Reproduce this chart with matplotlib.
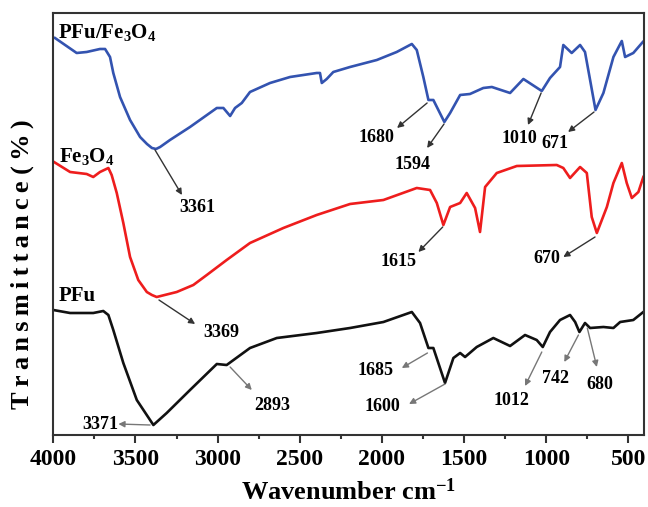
import matplotlib
matplotlib.use("Agg")
import matplotlib.pyplot as plt
from matplotlib.ticker import MultipleLocator

plt.rcParams['font.family'] = ['Liberation Serif', 'DejaVu Serif']
plt.rcParams['font.weight'] = 'bold'
plt.rcParams['mathtext.fontset'] = 'custom'
plt.rcParams['mathtext.rm'] = 'Liberation Serif:bold'
plt.rcParams['mathtext.bf'] = 'Liberation Serif:bold'
plt.rcParams['mathtext.it'] = 'Liberation Serif:bold:italic'

# PFu/Fe3O4 spectrum (wavenumber, transmittance in arbitrary offset units)
wn_blue = [3990, 3858, 3797, 3716, 3685, 3655, 3635, 3594, 3533, 3472, 3430, 3400, 3375,
           3350, 3290, 3168, 3005, 2965, 2924, 2894, 2853, 2803, 2681, 2559, 2397, 2377,
           2366, 2336, 2296, 2194, 2031, 1910, 1818, 1788, 1748, 1717, 1687, 1620,
           1585, 1524, 1464, 1383, 1331, 1220, 1139, 1027, 977, 916, 896, 845, 794,
           764, 733, 700, 652, 591, 540, 520, 470, 412]
t_blue = [397, 382, 383, 386, 386, 378, 362, 338, 315, 298, 291, 287, 286,
          288, 295, 308, 327, 327, 319, 327, 332, 343, 352, 358, 362, 362,
          352, 356, 363, 368, 375, 383, 391, 385, 358, 335, 335, 313,
          322, 340, 341, 347, 348, 342, 356, 344, 357, 368, 390, 382, 390,
          383, 355, 325, 342, 378, 394, 378, 382, 393]

# Fe3O4 spectrum
wn_red = [3996, 3898, 3797, 3757, 3716, 3665, 3645, 3614, 3574, 3533, 3483, 3431, 3400,
          3371, 3249, 3148, 3066, 2945, 2803, 2600, 2397, 2194, 1991, 1788, 1707,
          1666, 1626, 1585, 1524, 1484, 1433, 1403, 1372, 1301, 1179, 936, 896,
          855, 794, 753, 723, 692, 631, 591, 540, 510, 479, 439, 409]
t_red = [273, 263, 261, 258, 263, 267, 260, 242, 212, 178, 155, 143, 140,
         138, 143, 150, 160, 175, 192, 207, 220, 231, 235, 247, 245,
         232, 210, 228, 232, 242, 227, 203, 248, 262, 269, 270, 267,
         257, 268, 262, 218, 202, 228, 252, 272, 252, 237, 243, 258]

# PFu spectrum
wn_black = [4000, 3898, 3757, 3696, 3665, 3635, 3574, 3492, 3391, 3310, 3168, 3005,
            2945, 2803, 2640, 2397, 2194, 1991, 1818, 1768, 1717, 1687, 1616, 1565,
            1524, 1494, 1423, 1322, 1220, 1129, 1058, 1021, 977, 916, 855, 824,
            798, 764, 733, 652, 591, 550, 470, 409]
t_black = [125, 122, 122, 124, 120, 105, 72, 35, 10, 22, 45, 71,
           70, 87, 97, 102, 107, 113, 123, 112, 87, 87, 52, 77,
           82, 78, 88, 97, 89, 100, 95, 88, 103, 115, 120, 113,
           103, 112, 107, 108, 107, 113, 115, 123]

series_names = [r'PFu/Fe$_3$O$_4$', r'Fe$_3$O$_4$', 'PFu']
series_colors = ['#3353b0', '#ee1d1d', '#111111']
name_pos = [(3971, 402), (3965, 278), (3965, 139)]

# peak labels: text, arrow tail (on curve), arrow head, text centre
peak_labels = ['3361', '1680', '1594', '1010', '671',
               '3369', '1615', '670',
               '3371', '2893', '1685', '1600', '1012', '742', '680']
arrow_tail = [(3381, 285), (1725, 332), (1622, 311), (1031, 342), (709, 323),
              (3357, 135), (1630, 208), (703, 198),
              (3411, 10), (2924, 68), (1723, 82), (1616, 51), (1027, 83), (804, 100), (750, 107)]
arrow_head = [(3217, 240), (1908, 307), (1725, 287), (1111, 310), (867, 303),
              (3137, 111), (1778, 183), (896, 178),
              (3604, 11), (2792, 45), (1879, 67), (1835, 31), (1129, 49), (890, 73), (692, 68)]
text_pos = [(3125, 227), (2036, 297), (1811, 270), (1165, 296), (946, 291),
            (2979, 103), (1896, 173), (995, 176),
            (3716, 11), (2669, 30), (2042, 65), (1999, 29), (1214, 35), (946, 57), (672, 51)]
arrow_colors = ['#333333'] * 8 + ['#777777'] * 7


def plot_spectra():
    fig = plt.figure(figsize=(6.48, 5.07), dpi=100)
    ax = fig.add_axes([0.0823, 0.142, 0.9115, 0.8314])

    spectra = [(wn_blue, t_blue), (wn_red, t_red), (wn_black, t_black)]
    for (wn, t), color in zip(spectra, series_colors):
        ax.plot(wn, t, color=color, lw=1.9, solid_joinstyle='round')

    for name, pos in zip(series_names, name_pos):
        ax.text(pos[0], pos[1], name, fontsize=15, fontweight='bold',
                ha='left', va='center')

    for label, tail, head, tpos, col in zip(peak_labels, arrow_tail, arrow_head,
                                            text_pos, arrow_colors):
        ax.annotate('', xy=head, xytext=tail,
                    arrowprops=dict(arrowstyle='-|>', color=col, lw=1.0,
                                    mutation_scale=9, shrinkA=0, shrinkB=0))
        ax.text(tpos[0], tpos[1], label, fontsize=13, fontweight='bold',
                ha='center', va='center')

    ax.set_xlim(4000, 405)
    ax.set_ylim(0, 421.5)
    ax.xaxis.set_major_locator(MultipleLocator(500))
    ax.xaxis.set_minor_locator(MultipleLocator(250))
    ax.set_yticks([])
    ax.tick_params(axis='x', which='major', direction='out', length=6, width=1.5,
                   labelsize=17, pad=4, color='#333333')
    ax.tick_params(axis='x', which='minor', direction='out', length=3, width=1.5,
                   color='#333333')
    for lab in ax.get_xticklabels():
        lab.set_fontweight('bold')
    for sp in ax.spines.values():
        sp.set_linewidth(1.5)
        sp.set_color('#333333')

    ax.set_xlabel(r'Wavenumber cm$^{-1}$', fontsize=19, fontweight='bold', labelpad=6)
    # the original label is letter-spaced, thin spaces imitate that
    ylab = '\u2009'.join('Transmittance') + ' ' + '\u2009'.join('(%)')
    ax.set_ylabel(ylab, fontsize=19, fontweight='bold')
    ax.yaxis.set_label_coords(-0.032, 0.405)
    return fig


if __name__ == "__main__":
    fig = plot_spectra()
    fig.savefig("out.png", dpi=100)
